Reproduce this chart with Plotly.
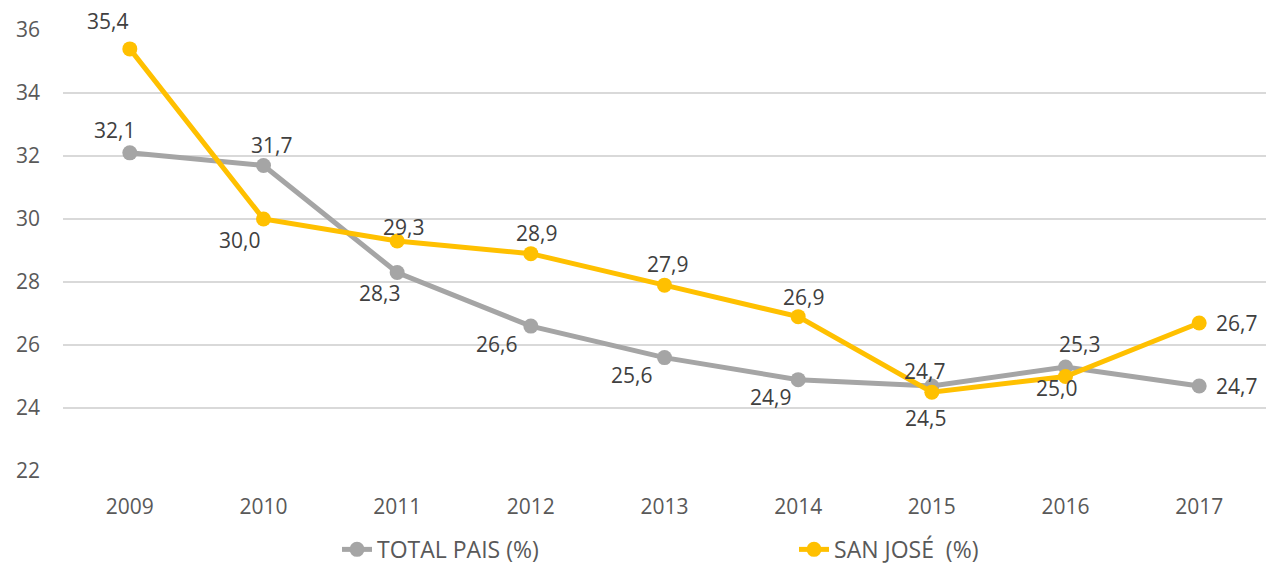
import plotly.graph_objects as go

years = ["2009", "2010", "2011", "2012", "2013", "2014", "2015", "2016", "2017"]
total_pais = [32.1, 31.7, 28.3, 26.6, 25.6, 24.9, 24.7, 25.3, 24.7]
san_jose = [35.4, 30.0, 29.3, 28.9, 27.9, 26.9, 24.5, 25.0, 26.7]
y_ticks = [22, 24, 26, 28, 30, 32, 34, 36]

# label offsets (px) for data labels: (xshift, yshift)
total_offsets = [(-15, 23), (8, 20), (-18, -20), (-34, -18), (-33, -17), (-28, -17), (-7, 15), (14, 23), (37, 0)]
sj_offsets = [(-22, 28), (-24, -21), (6, 14), (6, 21), (3, 21), (5, 20), (-6, -26), (-9, -11), (37, 0)]

GRAY = "#A5A5A5"
GOLD = "#FFC000"
FONT = "Open Sans"

fig = go.Figure()
fig.add_trace(go.Scatter(x=years, y=total_pais, mode="lines+markers", name="TOTAL PAIS (%)",
                         line=dict(color=GRAY, width=5), marker=dict(color=GRAY, size=15)))
fig.add_trace(go.Scatter(x=years, y=san_jose, mode="lines+markers", name="SAN JOSÉ  (%)",
                         line=dict(color=GOLD, width=5), marker=dict(color=GOLD, size=15)))

def fmt(v):
    return f"{v:.1f}".replace(".", ",")

annotations = []
for series, offs in ((total_pais, total_offsets), (san_jose, sj_offsets)):
    for i, (v, (dx, dy)) in enumerate(zip(series, offs)):
        annotations.append(dict(x=i, y=v, xref="x", yref="y", text=fmt(v), showarrow=False,
                                xshift=dx, yshift=dy, font=dict(family=FONT, size=21, color="#404040")))

fig.update_layout(
    width=1279, height=567,
    margin=dict(l=63, r=13, t=30, b=96, autoexpand=False),
    paper_bgcolor="white", plot_bgcolor="white",
    font=dict(family=FONT, size=21, color="#595959"),
    annotations=annotations,
    showlegend=True,
    legend=dict(orientation="h", xref="container", yref="container", x=0.2635, y=0.031,
                xanchor="left", yanchor="middle", entrywidth=412, entrywidthmode="pixels",
                font=dict(family=FONT, size=23, color="#595959"), bgcolor="rgba(0,0,0,0)"),
    xaxis=dict(type="category", showgrid=False, zeroline=False, showline=False, ticks="",
               ticklabelstandoff=21, automargin=False,
               tickfont=dict(family=FONT, size=21, color="#595959"), range=[-0.5, 8.5]),
    yaxis=dict(range=[22, 36], tickvals=y_ticks, showgrid=True, gridcolor="#D9D9D9", gridwidth=1.5,
               zeroline=False, showline=False, ticks="", ticklabelstandoff=22, automargin=False,
               tickfont=dict(family=FONT, size=21, color="#595959")),
)

fig.write_html("out.html", config={"displayModeBar": False},
               post_script="document.body.style.margin='0';")
